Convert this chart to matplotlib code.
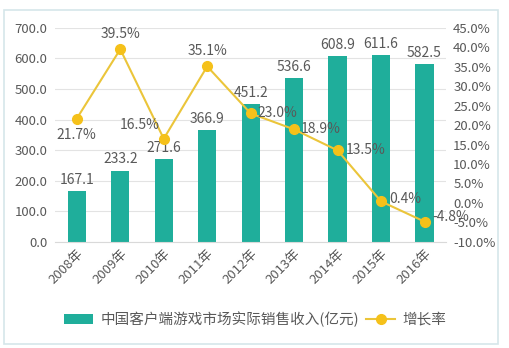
import matplotlib
matplotlib.use("Agg")
import matplotlib.pyplot as plt
from matplotlib.patches import Rectangle

plt.rcParams['font.family'] = ['Noto Sans CJK SC', 'DejaVu Sans']

years = ['2008年', '2009年', '2010年', '2011年', '2012年', '2013年', '2014年', '2015年', '2016年']
revenue = [167.1, 233.2, 271.6, 366.9, 451.2, 536.6, 608.9, 611.6, 582.5]
growth = [21.7, 39.5, 16.5, 35.1, 23.0, 18.9, 13.5, 0.4, -4.8]
bar_label = '中国客户端游戏市场实际销售收入(亿元)'
line_label = '增长率'

teal = '#1FAE9B'
gold = '#F5C11A'
txt = '#595959'

fig = plt.figure(figsize=(5.1, 3.48), dpi=100)
fig.patches.append(Rectangle((0.008, 0.012), 0.968, 0.958, transform=fig.transFigure,
                             fill=False, edgecolor='#D5E6EA', linewidth=1.2))
ax = fig.add_axes([0.108, 0.305, 0.767, 0.615])
ax2 = ax.twinx()

x = list(range(len(years)))
bars = ax.bar(x, revenue, width=0.42, color=teal, zorder=2, label=bar_label)
ax.set_ylim(0, 700)
ax.set_yticks(range(0, 701, 100))
ax.set_yticklabels([f'{v:.1f}' for v in range(0, 701, 100)])
ax.set_xlim(-0.5, len(years) - 0.5)
ax.set_xticks(x)
ax.set_xticklabels(years, rotation=45, ha='right', rotation_mode='anchor')
ax.grid(axis='y', color='#E3E3E3', linewidth=0.8, zorder=0)
ax.set_axisbelow(True)
for s in ['top', 'right', 'left', 'bottom']:
    ax.spines[s].set_visible(False)
    ax2.spines[s].set_visible(False)
ax.spines['bottom'].set_visible(True)
ax.spines['bottom'].set_color('#D9D9D9')
ax.tick_params(axis='y', length=0, labelsize=9.5, colors=txt, pad=5.5)
ax.tick_params(axis='x', length=0, labelsize=9.5, colors=txt, pad=4)
ax2.tick_params(axis='both', length=0, labelsize=9.5, colors=txt, pad=5)

for xi, v in zip(x, revenue):
    ax.annotate(f'{v:.1f}', (xi, v), xytext=(0, 3), textcoords='offset points',
                ha='center', va='bottom', fontsize=10, color=txt)

ln, = ax2.plot(x, growth, color='#EBC53A', linewidth=1.5, marker='o', markersize=7,
               markerfacecolor=gold, markeredgecolor=gold, zorder=3, label=line_label)
ax2.set_ylim(-10, 45)
ax2.set_yticks(range(-10, 46, 5))
ax2.set_yticklabels([f'{v:.1f}%' for v in range(-10, 46, 5)])

offsets = [(0, -7, 'center', 'top'), (0, 6, 'center', 'bottom'), (-3, 5, 'right', 'bottom'),
           (0, 6, 'center', 'bottom'), (5, 0, 'left', 'center'), (5, 0, 'left', 'center'),
           (6, 0, 'left', 'center'), (6, 2, 'left', 'center'), (6, 3, 'left', 'center')]
for xi, g, (dx, dy, ha, va) in zip(x, growth, offsets):
    ax2.annotate(f'{g:.1f}%', (xi, g), xytext=(dx, dy), textcoords='offset points',
                 ha=ha, va=va, fontsize=10, color=txt)

fig.legend([bars, ln], [bar_label, line_label], loc='center', bbox_to_anchor=(0.5, 0.083),
           ncol=2, frameon=False, fontsize=10.5, labelcolor=txt, handlelength=2.0,
           columnspacing=0.5, handletextpad=0.5)

fig.savefig('out.png', dpi=100)
